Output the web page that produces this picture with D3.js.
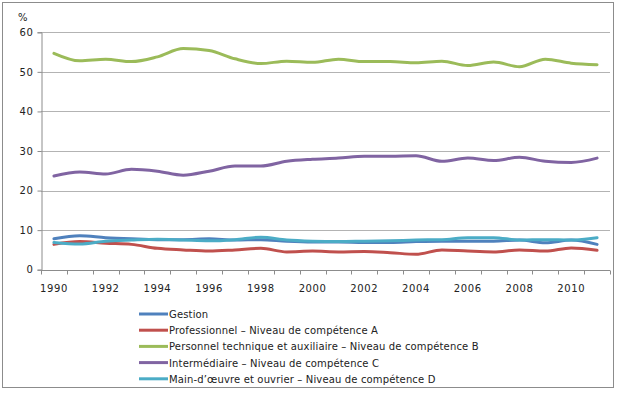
<!DOCTYPE html>
<html><head><meta charset="utf-8">
<script src="https://cdn.jsdelivr.net/npm/d3@7"></script>
<style>body{margin:0;background:#fff}svg{display:block}text{font-family:"DejaVu Sans",Verdana,sans-serif;fill:#222}</style>
</head><body><svg id="c" width="621" height="394"></svg>
<script>
const years = d3.range(1990, 2012);
const tickLabels = [1990,1992,1994,1996,1998,2000,2002,2004,2006,2008,2010];
const yTicks = [0,10,20,30,40,50,60];
const seriesNames = ["Gestion","Professionnel – Niveau de compétence A","Personnel technique et auxiliaire – Niveau de compétence B","Intermédiaire – Niveau de compétence C","Main-d’œuvre et ouvrier – Niveau de compétence D"];
const colors = ["#4F81BD","#C0504D","#9BBB59","#8064A2","#4BACC6"];
const gestion = [7.8,8.6,8.1,7.8,7.6,7.6,7.8,7.5,7.6,7.2,7.0,7.0,6.9,6.9,7.1,7.2,7.2,7.2,7.5,6.8,7.5,6.4];
const professionnel = [6.4,7.1,6.7,6.4,5.4,5.0,4.7,5.0,5.4,4.5,4.7,4.5,4.6,4.3,3.9,5.0,4.7,4.5,5.0,4.7,5.5,4.9];
const personnel = [54.7,52.8,53.2,52.6,53.8,55.9,55.4,53.3,52.1,52.7,52.4,53.2,52.6,52.6,52.3,52.7,51.6,52.5,51.3,53.2,52.2,51.8];
const intermediaire = [23.7,24.7,24.2,25.4,24.9,23.9,24.9,26.2,26.2,27.4,27.9,28.2,28.7,28.7,28.8,27.4,28.2,27.6,28.4,27.4,27.1,28.2];
const mainOeuvre = [6.9,6.5,7.2,7.5,7.7,7.5,7.3,7.6,8.2,7.5,7.2,7.1,7.2,7.3,7.5,7.6,8.1,8.1,7.5,7.6,7.5,8.1];
const data = [gestion, professionnel, personnel, intermediaire, mainOeuvre];

const svg = d3.select("#c");
svg.append("rect").attr("x",2.5).attr("y",2.5).attr("width",611).attr("height",385)
  .attr("fill","#fff").attr("stroke","#8c8c8c");

const x = d3.scaleBand().domain(years).range([41,610]);
const y = d3.scaleLinear().domain([0,60]).range([269.7,32.3]);

// gridlines
svg.append("g").selectAll("line").data(yTicks.slice(1)).join("line")
  .attr("x1",41).attr("x2",610).attr("y1",d=>Math.round(y(d))+0.5).attr("y2",d=>Math.round(y(d))+0.5)
  .attr("stroke","#b3b3b3").attr("stroke-width",1);

// y axis
const ya = svg.append("g").attr("transform","translate(41.5,0)")
  .call(d3.axisLeft(y).tickValues(yTicks).tickSize(4).tickPadding(4));
ya.select(".domain").attr("stroke","#8c8c8c");
ya.selectAll(".tick line").attr("stroke","#8c8c8c");
ya.selectAll("text").style("font-size","10px").attr("fill","#222").style("letter-spacing","0.6px");

// x axis with ticks at band boundaries
const xa = svg.append("g").attr("transform",`translate(0,${Math.round(y(0))+0.5})`);
xa.append("line").attr("x1",41).attr("x2",610).attr("stroke","#8c8c8c");
const bounds = years.map(d=>x(d)).concat([610]);
xa.selectAll("line.t").data(bounds).join("line").attr("class","t")
  .attr("x1",d=>Math.round(d)+0.5).attr("x2",d=>Math.round(d)+0.5).attr("y1",0).attr("y2",4).attr("stroke","#8c8c8c");
xa.selectAll("text").data(tickLabels).join("text")
  .attr("x",d=>x(d)+x.bandwidth()/2).attr("y",21).attr("text-anchor","middle")
  .style("font-size","10px").style("letter-spacing","0.6px").text(d=>d);

svg.append("text").attr("x",18).attr("y",21).style("font-size","10px").text("%");

// lines
const line = d3.line().x((d,i)=>x(years[i])+x.bandwidth()/2).y(d=>y(d)).curve(d3.curveMonotoneX);
const drawOrder = [2,3,1,0,4];
svg.append("g").selectAll("path").data(drawOrder).join("path")
  .attr("d",k=>line(data[k])).attr("fill","none").attr("stroke",k=>colors[k])
  .attr("stroke-width",3).attr("stroke-linejoin","round").attr("stroke-linecap","round");

// legend
const lg = svg.append("g").selectAll("g").data(seriesNames).join("g")
  .attr("transform",(d,i)=>`translate(139,${314+i*16.2})`);
lg.append("line").attr("x1",0).attr("x2",29).attr("stroke",(d,i)=>colors[i]).attr("stroke-width",3);
lg.append("text").attr("x",30).attr("y",4).style("font-size","10px").style("letter-spacing","0.15px").text(d=>d);
</script></body></html>
